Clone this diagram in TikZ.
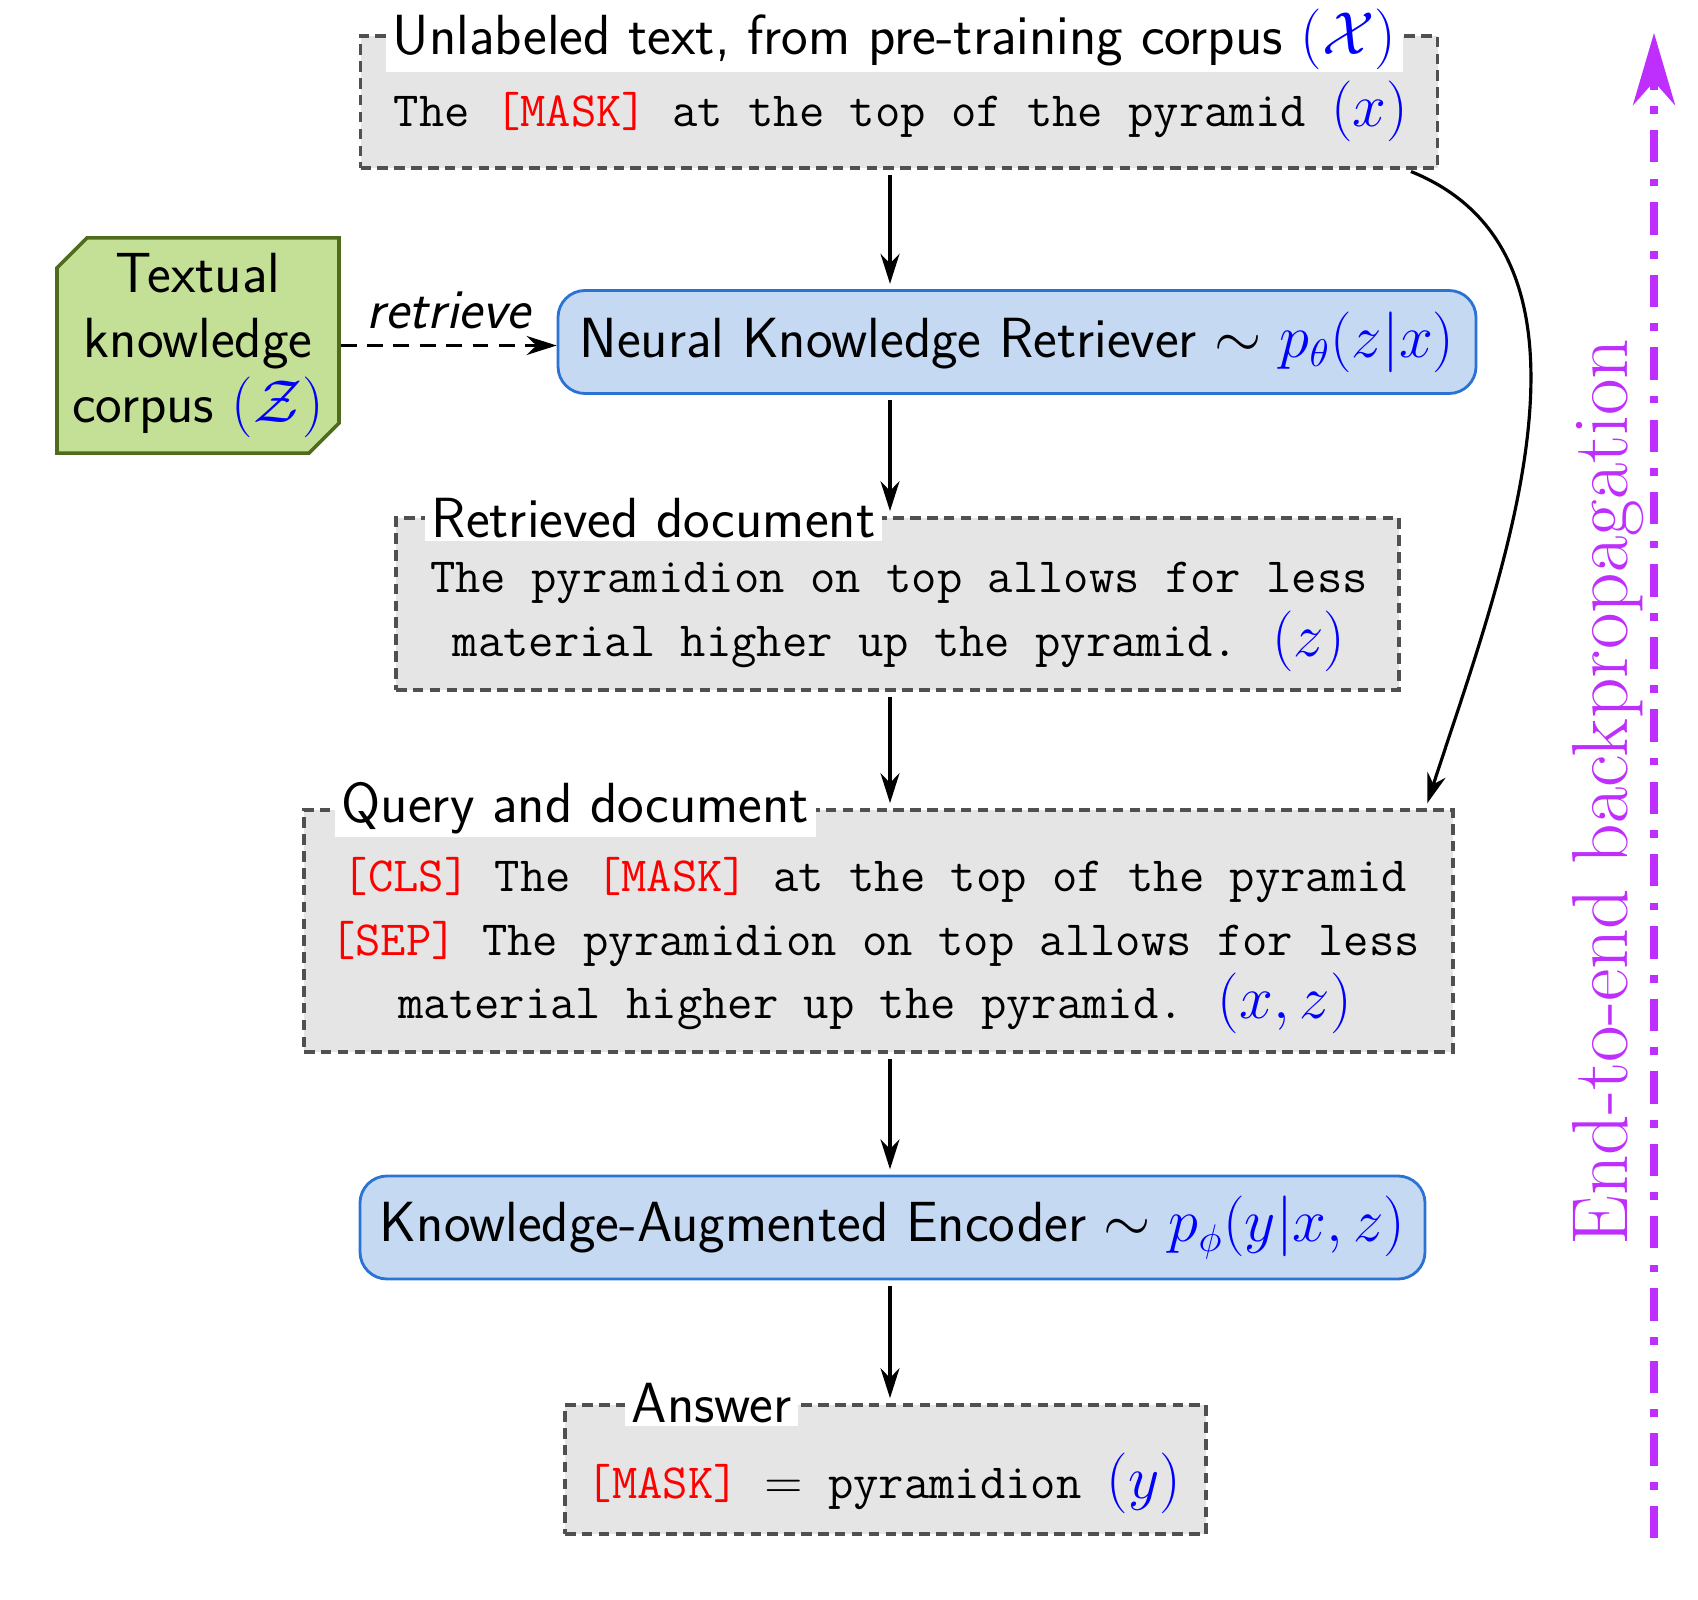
\documentclass[tikz,border=0pt]{standalone}
\usepackage{amsmath,amssymb}
\usepackage{xcolor}
\usepackage{tikz}
\usetikzlibrary{arrows.meta,positioning,shapes.misc,calc}
\definecolor{docgray}{HTML}{E5E5E5}
\definecolor{docline}{HTML}{505050}
\definecolor{modfill}{HTML}{C5D9F3}
\definecolor{modline}{HTML}{2A72D4}
\definecolor{kbfill}{HTML}{C4DF96}
\definecolor{kbline}{HTML}{4F6B1E}
\definecolor{bpcol}{HTML}{BE2EFC}
\newcommand{\sansbig}{\sffamily\fontsize{16.1}{18.6}\selectfont}
\newcommand{\spectok}[1]{\textcolor{red}{#1}}
\newcommand{\mathvar}[1]{{\fontsize{16.1}{18}\selectfont\textcolor{blue}{$#1$}}}

\begin{document}
\begin{tikzpicture}[
    x=1cm, y=1cm,
    docbox/.style={draw=docline, fill=docgray, dash pattern=on 3pt off 1.8pt, line width=0.9pt, inner sep=0pt},
    modbox/.style={draw=modline, fill=modfill, line width=0.8pt, rounded corners=0.27cm, inner sep=0pt, font=\sansbig},
    kbbox/.style={chamfered rectangle, chamfered rectangle corners={north west, south east},
      chamfered rectangle xsep=0.15cm, chamfered rectangle ysep=0.15cm,
      draw=kbline, fill=kbfill, line width=1pt, inner sep=0pt, align=center, font=\sansbig},
    ttl/.style={fill=white, anchor=west, font=\sansbig, inner xsep=2pt, inner ysep=0.8pt},
    body/.style={font=\ttfamily\fontsize{14}{18}\selectfont, align=center},
    arr/.style={-{Stealth[length=3mm, width=1.9mm]}, line width=0.9pt, shorten <=1.5pt, shorten >=1.5pt}
  ]
  \useasboundingbox (0,0) rectangle (16.98,-16.0);
  \coordinate (spine) at (8.90,0);

  \node[docbox, minimum width=10.77cm, minimum height=1.32cm] (pre) at (8.99,-1.02) {};
  \node[body] (pretext) at (9.01,-1.115) {The \spectok{[MASK]} at the top of the pyramid \mathvar{(x)}};
  \node[ttl] (pretitle) at (3.85,-0.39) {Unlabeled text, from pre-training corpus \mathvar{(\mathcal{X})}};

  \node[kbbox, minimum width=2.82cm, minimum height=2.15cm] (corpus) at (1.98,-3.455) {Textual\\knowledge\\corpus \mathvar{(\mathcal{Z})}};
  \node[modbox, minimum width=9.18cm, minimum height=1.03cm] (retr) at (10.17,-3.42) {Neural Knowledge Retriever $\sim$ \mathvar{p_\theta(z|x)}};
  \draw[arr, shorten <=0pt, shorten >=0pt, dash pattern=on 4.5pt off 3pt] (corpus.east) -- (corpus.east -| retr.west)
    node[midway, above=1pt, font=\sansbig\itshape] (retlbl) {retrieve};

  \node[docbox, minimum width=10.03cm, minimum height=1.72cm] (doc) at (8.975,-6.04) {};
  \node[body] (doctext) at (8.99,-6.17) {The pyramidion on top allows for less\\material higher up the pyramid. \mathvar{(z)}};
  \node[ttl] (doctitle) at (4.24,-5.18) {Retrieved document};

  \node[docbox, minimum width=11.49cm, minimum height=2.42cm] (qd) at (8.785,-9.31) {};
  \node[body] (qdtext) at (8.75,-9.455) {\spectok{[CLS]} The \spectok{[MASK]} at the top of the pyramid\\\spectok{[SEP]} The pyramidion on top allows for less\\material higher up the pyramid. \mathvar{(x,z)}};
  \node[ttl] (qdtitle) at (3.34,-8.08) {Query and document};

  \node[modbox, minimum width=10.65cm, minimum height=1.03cm] (enc) at (8.925,-12.275) {Knowledge-Augmented Encoder $\sim$ \mathvar{p_\phi(y|x,z)}};

  \node[docbox, minimum width=6.41cm, minimum height=1.29cm] (ans) at (8.855,-14.695) {};
  \node[body] (anstext) at (8.84,-14.83) {\spectok{[MASK]} $=$ pyramidion \mathvar{(y)}};
  \node[ttl] (anstitle) at (6.24,-14.03) {Answer};

  \foreach \a/\b in {pre/retr, retr/doc, doc/qd, qd/enc, enc/ans} {
    \draw[arr] (\a.south -| spine) -- (\b.north -| spine);
  }
  \draw[arr] ([xshift=-0.33cm]pre.south east) to[out=-22, in=72, looseness=0.95] ([xshift=-0.29cm]qd.north east);

  \coordinate (bpstart) at (16.54,-15.38);
  \coordinate (bpend) at (16.54,-0.33);
  \draw[bpcol, line width=2.2pt, dash pattern=on 9.2pt off 4.6pt on 2.2pt off 4.6pt, -{Stealth[length=7.2mm, width=4.2mm]}] (bpstart) -- (bpend);
  \node[rotate=90, text=bpcol, font=\fontsize{22.6}{27}\selectfont] (bplbl) at (16.08,-7.92) {End-to-end backpropagation};
\end{tikzpicture}
\end{document}
